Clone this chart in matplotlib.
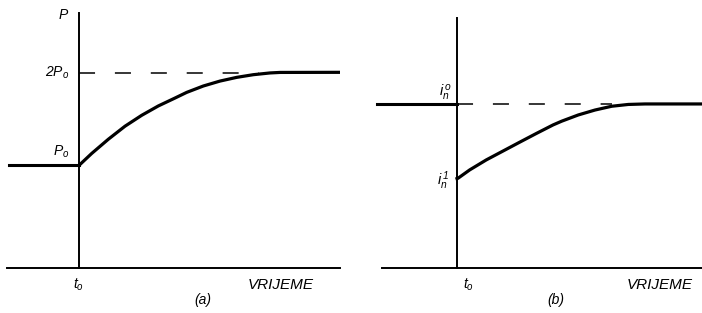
import matplotlib.pyplot as plt

plt.rcParams['mathtext.fontset'] = 'custom'
plt.rcParams['mathtext.it'] = 'Liberation Sans:italic'
plt.rcParams['mathtext.rm'] = 'Liberation Sans:italic'
plt.rcParams['font.family'] = ['Liberation Sans', 'DejaVu Sans']

# (a) power P over time, t0 = 0
p_pre_t = [-1.40, 0.0]
p_pre = [1.0, 1.0]
p_t = [0.0, 0.02, 0.254, 0.586, 0.92, 1.254, 1.586, 1.92, 2.154, 2.486,
       2.82, 3.154, 3.486, 3.82, 4.02, 5.22]
p_val = [1.0, 1.007, 1.114, 1.252, 1.379, 1.485, 1.576, 1.653, 1.708, 1.770,
         1.818, 1.854, 1.880, 1.897, 1.902, 1.903]
p_level = 1.90          # 2P0
p_dash_t = [0.0, 3.6]

# (b) current i_n over time
i_pre_t = [-1.60, 0.0]
i_pre = [1.0, 1.0]
i_t = [0.0, 0.02, 0.254, 0.586, 0.92, 1.254, 1.586, 1.92, 2.094, 2.426,
       2.76, 3.094, 3.426, 3.76, 4.90]
i_val = [0.545, 0.547, 0.598, 0.659, 0.713, 0.767, 0.820, 0.872, 0.895, 0.933,
         0.963, 0.986, 0.997, 1.0, 1.0]
i_level = 1.0
i_dash_t = [0.0, 3.1]

W, H = 702, 313
fig = plt.figure(figsize=(W / 100, H / 100), dpi=100)

ax_a = fig.add_axes([7 / W, 45 / H, 333 / W, 255 / H])
ax_b = fig.add_axes([382 / W, 45 / H, 320 / W, 250 / H])

dash = (0, (10.5, 13))
txt = dict(fontsize=10, fontstyle='italic', clip_on=False)
word = dict(fontsize=11, fontstyle='italic', clip_on=False)


def setup(ax, xlim, ylim):
    ax.set_xlim(*xlim)
    ax.set_ylim(*ylim)
    for s in ['top', 'right']:
        ax.spines[s].set_visible(False)
    ax.spines['left'].set_position(('data', 0))
    ax.spines['left'].set_linewidth(1.4)
    ax.spines['bottom'].set_linewidth(1.4)
    ax.set_xticks([])
    ax.set_yticks([])
    ax.patch.set_alpha(0)


# panel (a)
setup(ax_a, (-1.44, 5.22), (0, 2.48))
ax_a.plot(p_pre_t, p_pre, color='black', lw=2.2, clip_on=False)
ax_a.plot(p_t, p_val, color='black', lw=2.3, solid_joinstyle='round')
ax_a.plot(p_dash_t, [p_level, p_level], color='black', lw=1.1, linestyle=dash)
ax_a.text(-0.30, 2.46, '$P$', ha='center', va='center', **txt)
ax_a.text(-0.20, p_level, '$2P_o$', ha='right', va='center', **txt)
ax_a.text(-0.20, 1.13, '$P_o$', ha='right', va='center', **txt)
ax_a.text(-0.02, -0.165, '$t_o$', ha='center', va='center', **txt)
ax_a.text(4.04, -0.165, 'VRIJEME', ha='center', va='center', **word)
ax_a.text(2.48, -0.31, '(a)', ha='center', va='center', **txt)

# panel (b)
setup(ax_b, (-1.5, 4.9), (0, 1.524))
ax_b.plot(i_pre_t, i_pre, color='black', lw=2.2, clip_on=False)
ax_b.plot(i_t, i_val, color='black', lw=2.3, solid_joinstyle='round')
ax_b.plot(i_dash_t, [i_level, i_level], color='black', lw=1.1, linestyle=dash)
ax_b.text(-0.10, 1.065, r'$i_n^{\,o}$', ha='right', va='center', fontsize=10.5,
          clip_on=False)
ax_b.text(-0.14, 0.535, r'$i_n^{\,1}$', ha='right', va='center', fontsize=10.5,
          clip_on=False)
ax_b.text(0.22, -0.104, '$t_o$', ha='center', va='center', **txt)
ax_b.text(4.06, -0.104, 'VRIJEME', ha='center', va='center', **word)
ax_b.text(1.98, -0.195, '(b)', ha='center', va='center', **txt)

fig.savefig('out.png', dpi=100)
